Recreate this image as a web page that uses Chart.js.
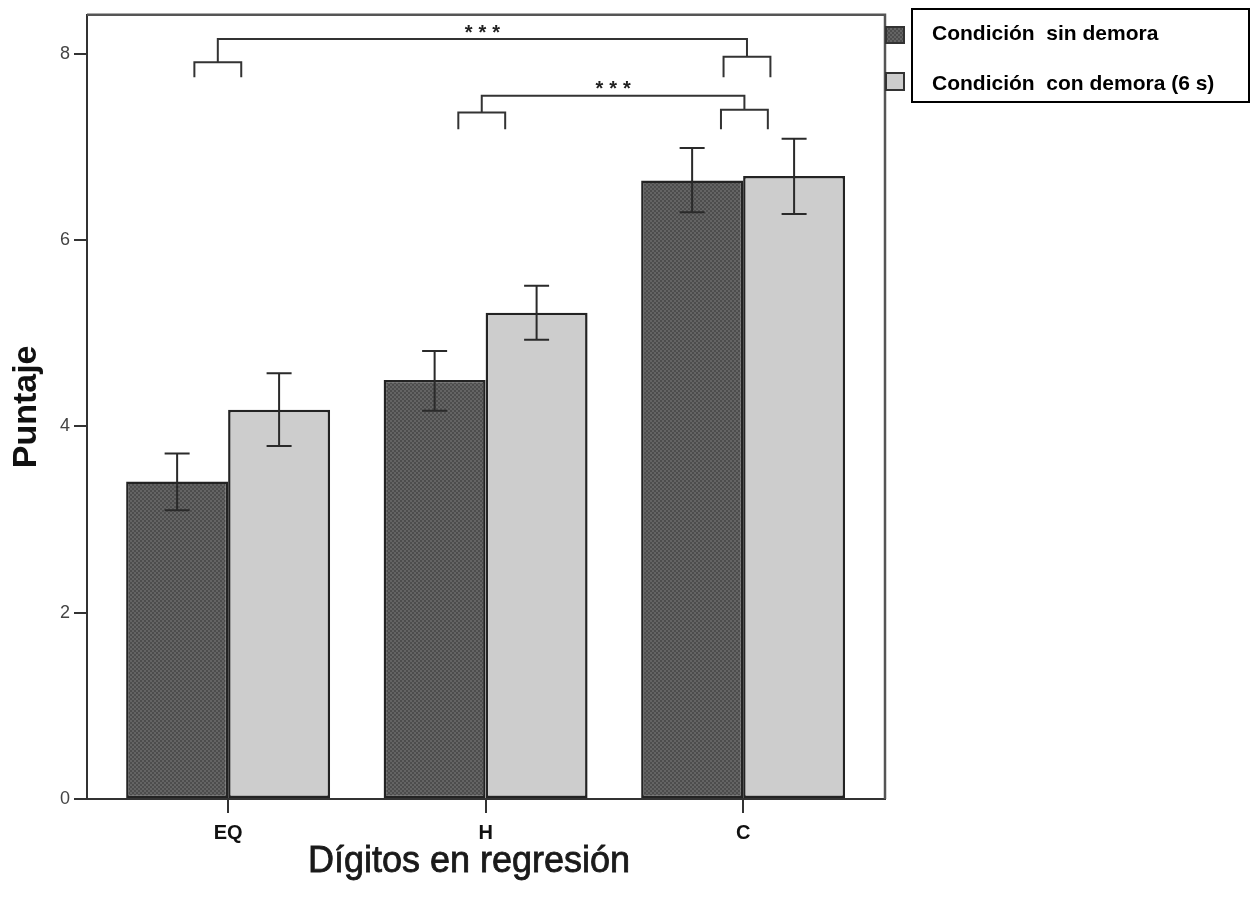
<!DOCTYPE html>
<html>
<head>
<meta charset="utf-8">
<script src="https://cdn.jsdelivr.net/npm/chart.js@4.4.1/dist/chart.umd.min.js"></script>
<style>
  html, body { margin: 0; padding: 0; background: #ffffff; }
  #wrap { width: 1256px; height: 901px; position: relative; }
</style>
</head>
<body>
<div id="wrap"><canvas id="c" width="1256" height="901"></canvas></div>
<script>
// ---------- data ----------
const categories = ['EQ', 'H', 'C'];
const seriesNames = ['Condición  sin demora', 'Condición  con demora (6 s)'];
const sinDemora = [3.41, 4.50, 6.64];
const sinDemoraLow = [3.10, 4.17, 6.30];
const sinDemoraHigh = [3.71, 4.81, 6.99];
const conDemora = [4.18, 5.22, 6.69];
const conDemoraLow = [3.79, 4.93, 6.28];
const conDemoraHigh = [4.57, 5.51, 7.09];
const yTicks = [0, 2, 4, 6, 8];
const xTitle = 'Dígitos en regresión';
const yTitle = 'Puntaje';
// significance brackets (x in category units, y in score units)
const bracketFrom = [-0.04, 0.985];
const bracketTo = [2.015, 2.005];
const bracketLevel = [8.16, 7.55];
const bracketArmFrom = [7.91, 7.37];
const bracketArmTo = [7.97, 7.40];
const bracketLegEnd = [7.75, 7.19];
const bracketLabels = ['***', '***'];

const FONT = '"Liberation Sans", Arial, sans-serif';

// dark crosshatch pattern
function makePattern() {
  const p = document.createElement('canvas');
  p.width = 4; p.height = 4;
  const g = p.getContext('2d');
  g.fillStyle = '#646464';
  g.fillRect(0, 0, 4, 4);
  g.fillStyle = '#4d4d4d';
  g.fillRect(0, 0, 2, 2);
  g.fillRect(2, 2, 2, 2);
  return g.createPattern(p, 'repeat');
}
const darkFill = makePattern();
const lightFill = '#cdcdcd';

const errLow = [sinDemoraLow, conDemoraLow];
const errHigh = [sinDemoraHigh, conDemoraHigh];

const decorPlugin = {
  id: 'decor',
  afterDatasetsDraw(chart) {
    const ctx = chart.ctx;
    const xs = chart.scales.x, ys = chart.scales.y;
    const ca = chart.chartArea;
    ctx.save();
    // error bars
    ctx.strokeStyle = '#2a2a2a';
    ctx.lineWidth = 2;
    chart.data.datasets.forEach((ds, di) => {
      const meta = chart.getDatasetMeta(di);
      meta.data.forEach((bar, i) => {
        const x = bar.x;
        const yl = ys.getPixelForValue(errLow[di][i]);
        const yh = ys.getPixelForValue(errHigh[di][i]);
        ctx.beginPath();
        ctx.moveTo(x, yl); ctx.lineTo(x, yh);
        ctx.moveTo(x - 12.5, yl); ctx.lineTo(x + 12.5, yl);
        ctx.moveTo(x - 12.5, yh); ctx.lineTo(x + 12.5, yh);
        ctx.stroke();
      });
    });
    // frame (top and right)
    ctx.strokeStyle = '#555';
    ctx.lineWidth = 2.5;
    ctx.beginPath();
    ctx.moveTo(ca.left, ca.top); ctx.lineTo(ca.right, ca.top); ctx.lineTo(ca.right, ca.bottom);
    ctx.stroke();
    // brackets
    ctx.strokeStyle = '#333';
    ctx.lineWidth = 2;
    const halfW = 0.091;
    for (let b = 0; b < bracketFrom.length; b++) {
      const xl = xs.getPixelForValue(bracketFrom[b]);
      const xr = xs.getPixelForValue(bracketTo[b]);
      const yt = ys.getPixelForValue(bracketLevel[b]);
      const yaL = ys.getPixelForValue(bracketArmFrom[b]);
      const yaR = ys.getPixelForValue(bracketArmTo[b]);
      const yLeg = ys.getPixelForValue(bracketLegEnd[b]);
      const hw = xs.getPixelForValue(halfW) - xs.getPixelForValue(0);
      ctx.beginPath();
      ctx.moveTo(xl, yaL); ctx.lineTo(xl, yt); ctx.lineTo(xr, yt); ctx.lineTo(xr, yaR);
      ctx.moveTo(xl - hw, yLeg); ctx.lineTo(xl - hw, yaL); ctx.lineTo(xl + hw, yaL); ctx.lineTo(xl + hw, yLeg);
      ctx.moveTo(xr - hw, yLeg); ctx.lineTo(xr - hw, yaR); ctx.lineTo(xr + hw, yaR); ctx.lineTo(xr + hw, yLeg);
      ctx.stroke();
      ctx.fillStyle = '#222';
      ctx.font = 'bold 20px ' + FONT;
      ctx.textAlign = 'center';
      ctx.textBaseline = 'alphabetic';
      try { ctx.letterSpacing = '6px'; } catch (e) {}
      ctx.fillText(bracketLabels[b], (xl + xr) / 2 + 3, yt - 0.5);
      try { ctx.letterSpacing = '0px'; } catch (e) {}
    }
    // legend markers
    ctx.lineWidth = 2;
    ctx.strokeStyle = '#333';
    ctx.fillStyle = darkFill;
    ctx.fillRect(886, 27, 18, 16);
    ctx.strokeRect(886, 27, 18, 16);
    ctx.fillStyle = lightFill;
    ctx.fillRect(886, 73, 18, 17);
    ctx.strokeRect(886, 73, 18, 17);
    // legend box
    ctx.strokeStyle = '#000';
    ctx.lineWidth = 2;
    ctx.strokeRect(912, 9, 337, 93);
    ctx.fillStyle = '#000';
    ctx.font = 'bold 21px ' + FONT;
    ctx.textAlign = 'left';
    ctx.textBaseline = 'alphabetic';
    ctx.fillText(seriesNames[0], 932, 40);
    ctx.fillText(seriesNames[1], 932, 90);
    // x title
    ctx.fillStyle = '#1a1a1a';
    ctx.strokeStyle = '#1a1a1a';
    ctx.lineWidth = 0.8;
    ctx.font = '36px ' + FONT;
    ctx.textAlign = 'center';
    ctx.fillText(xTitle, 469, 872);
    ctx.strokeText(xTitle, 469, 872);
    ctx.restore();
  }
};

new Chart(document.getElementById('c'), {
  type: 'bar',
  data: {
    datasets: [
      {
        label: seriesNames[0],
        data: sinDemora.map((v, i) => ({ x: i, y: v })),
        backgroundColor: darkFill,
        borderColor: '#232323',
        borderWidth: 2.5,
        borderSkipped: false,
        categoryPercentage: 0.792,
        barPercentage: 1.0
      },
      {
        label: seriesNames[1],
        data: conDemora.map((v, i) => ({ x: i, y: v })),
        backgroundColor: lightFill,
        borderColor: '#232323',
        borderWidth: 2.5,
        borderSkipped: false,
        categoryPercentage: 0.792,
        barPercentage: 1.0
      }
    ]
  },
  options: {
    responsive: false,
    devicePixelRatio: 1,
    animation: false,
    layout: { padding: { top: 12, right: 371, left: 0, bottom: 0 } },
    plugins: { legend: { display: false }, tooltip: { enabled: false } },
    scales: {
      x: {
        type: 'linear',
        offset: false,
        min: -0.548,
        max: 2.551,
        afterBuildTicks: s => { s.ticks = categories.map((c, i) => ({ value: i })); },
        afterFit: s => { s.height = 102; },
        ticks: {
          callback: v => categories[v],
          font: { family: FONT, size: 20, weight: 'bold' },
          color: '#111',
          padding: 8,
          maxRotation: 0,
          autoSkip: false
        },
        grid: { offset: false, drawOnChartArea: false, drawTicks: true, tickLength: 14, color: '#333', lineWidth: 2 },
        border: { display: true, color: '#333', width: 2 }
      },
      y: {
        min: 0,
        max: 8.42,
        afterBuildTicks: s => { s.ticks = yTicks.map(v => ({ value: v })); },
        afterFit: s => { s.width = 87; },
        ticks: {
          font: { family: FONT, size: 18 },
          color: '#444',
          padding: 4
        },
        grid: { drawOnChartArea: false, drawTicks: true, tickLength: 13, color: '#333', lineWidth: 2 },
        border: { display: true, color: '#333', width: 2 },
        title: {
          display: true,
          text: yTitle,
          font: { family: FONT, size: 34, weight: 'bold' },
          color: '#111',
          padding: { top: 6, bottom: 0 }
        }
      }
    }
  },
  plugins: [decorPlugin]
});
</script>
</body>
</html>
